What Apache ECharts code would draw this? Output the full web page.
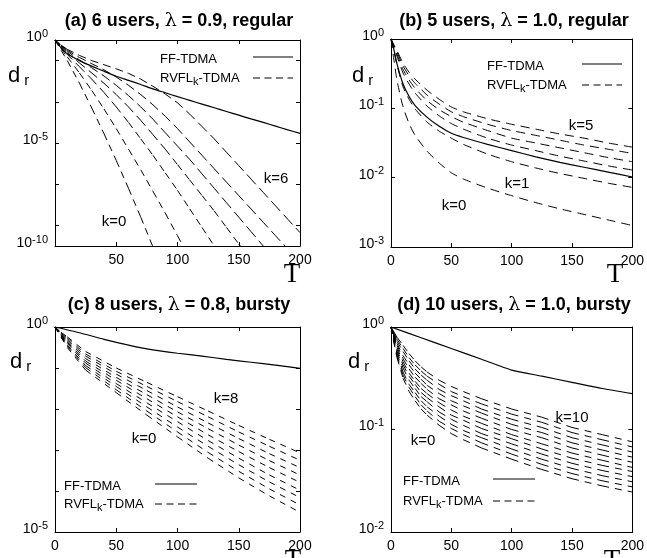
<!DOCTYPE html>
<html>
<head>
<meta charset="utf-8">
<script src="https://cdn.jsdelivr.net/npm/echarts@6/dist/echarts.min.js"></script>
<style>
html, body { margin: 0; padding: 0; background: #fff; }
#main { width: 647px; height: 558px; }
</style>
</head>
<body>
<div id="main"></div>
<script>
// values are log10(d_r)
var T_A = [0, 5, 10, 20, 30, 40, 50, 60, 70, 80, 90, 100, 110, 120, 130, 140, 150, 160, 170, 180, 190, 200];
var ff_A = [0, -0.38, -0.67, -1.0, -1.27, -1.52, -1.76, -1.96, -2.16, -2.37, -2.56, -2.75, -2.93, -3.11, -3.29, -3.47, -3.65, -3.83, -4.0, -4.18, -4.36, -4.53];
var rv_A = [
  [0, -0.5, -1.0, -2.1, -3.3, -4.55, -5.85, -7.2, -8.6, -10.05],
  [0, -0.42, -0.82, -1.6, -2.45, -3.35, -4.3, -5.3, -6.3, -7.35, -8.4, -9.5, -10.6],
  [0, -0.37, -0.7, -1.3, -1.9, -2.55, -3.25, -4.0, -4.8, -5.6, -6.45, -7.3, -8.2, -9.1, -10.0, -10.9],
  [0, -0.33, -0.62, -1.12, -1.6, -2.1, -2.65, -3.25, -3.9, -4.6, -5.3, -6.05, -6.8, -7.55, -8.3, -9.1, -9.9, -10.7],
  [0, -0.3, -0.55, -0.97, -1.35, -1.75, -2.2, -2.7, -3.25, -3.85, -4.5, -5.15, -5.8, -6.5, -7.2, -7.9, -8.6, -9.3, -10.0, -10.7],
  [0, -0.27, -0.5, -0.85, -1.15, -1.45, -1.8, -2.2, -2.65, -3.15, -3.7, -4.3, -4.95, -5.6, -6.25, -6.9, -7.55, -8.2, -8.85, -9.5, -10.15, -10.8],
  [0, -0.25, -0.45, -0.75, -1.0, -1.2, -1.4, -1.62, -1.9, -2.25, -2.62, -3.05, -3.6, -4.2, -4.8, -5.45, -6.1, -6.75, -7.4, -8.05, -8.7, -9.35]
];

var T_B = [0, 2, 5, 10, 15, 20, 30, 40, 50, 60, 80, 100, 120, 140, 160, 180, 200];
var ff_B = [0, -0.12, -0.36, -0.65, -0.83, -0.96, -1.13, -1.26, -1.36, -1.42, -1.52, -1.61, -1.7, -1.78, -1.85, -1.92, -1.99];
var rv_B = [
  [0, -0.25, -0.6, -0.98, -1.22, -1.39, -1.62, -1.79, -1.93, -2.02, -2.15, -2.26, -2.36, -2.45, -2.53, -2.61, -2.69],
  [0, -0.14, -0.38, -0.69, -0.87, -1.01, -1.2, -1.33, -1.43, -1.52, -1.66, -1.77, -1.86, -1.94, -2.01, -2.08, -2.14],
  [0, -0.1, -0.25, -0.49, -0.65, -0.78, -0.97, -1.11, -1.22, -1.3, -1.43, -1.53, -1.61, -1.69, -1.76, -1.83, -1.89],
  [0, -0.09, -0.22, -0.44, -0.59, -0.71, -0.89, -1.02, -1.12, -1.2, -1.32, -1.43, -1.5, -1.57, -1.64, -1.71, -1.77],
  [0, -0.08, -0.19, -0.39, -0.53, -0.64, -0.81, -0.94, -1.05, -1.12, -1.23, -1.32, -1.39, -1.46, -1.53, -1.59, -1.65],
  [0, -0.07, -0.17, -0.35, -0.48, -0.58, -0.74, -0.87, -0.98, -1.05, -1.15, -1.23, -1.3, -1.37, -1.43, -1.5, -1.56]
];

var T_C = [0, 5, 10, 25, 50, 75, 100, 125, 150, 175, 200];
var T_Cff = [0, 20, 40, 60, 80, 100, 120, 140, 160, 180, 200];
var ff_C = [0, -0.14, -0.3, -0.44, -0.56, -0.64, -0.71, -0.79, -0.86, -0.93, -1.01];
var rv_C = [
  [0, -0.25, -0.5, -1.05, -1.6, -2.15, -2.68, -3.2, -3.68, -4.12, -4.52],
  [0, -0.24, -0.47, -0.99, -1.53, -2.05, -2.56, -3.06, -3.52, -3.95, -4.34],
  [0, -0.22, -0.44, -0.94, -1.45, -1.95, -2.44, -2.91, -3.36, -3.78, -4.16],
  [0, -0.21, -0.4, -0.88, -1.38, -1.85, -2.31, -2.77, -3.2, -3.61, -3.98],
  [0, -0.19, -0.37, -0.83, -1.3, -1.75, -2.19, -2.63, -3.04, -3.43, -3.79],
  [0, -0.18, -0.34, -0.77, -1.23, -1.65, -2.07, -2.48, -2.88, -3.26, -3.61],
  [0, -0.16, -0.31, -0.71, -1.15, -1.55, -1.95, -2.34, -2.72, -3.09, -3.43],
  [0, -0.15, -0.27, -0.66, -1.08, -1.45, -1.82, -2.19, -2.56, -2.91, -3.25],
  [0, -0.13, -0.24, -0.6, -1.0, -1.35, -1.7, -2.05, -2.4, -2.74, -3.07]
];

var T_D = [0, 2, 5, 10, 15, 20, 25, 30, 40, 50, 60, 75, 100, 125, 150, 175, 200];
var T_Dff = [0, 25, 50, 75, 100, 125, 150, 175, 200];
var ff_D = [0, -0.105, -0.21, -0.315, -0.42, -0.48, -0.54, -0.6, -0.65];
var rv_D = [
  [0, -0.13, -0.3, -0.5, -0.63, -0.72, -0.8, -0.86, -0.96, -1.04, -1.1, -1.18, -1.29, -1.39, -1.48, -1.55, -1.61],
  [0, -0.12, -0.28, -0.47, -0.59, -0.68, -0.76, -0.82, -0.92, -0.99, -1.05, -1.13, -1.24, -1.34, -1.43, -1.5, -1.56],
  [0, -0.11, -0.26, -0.44, -0.56, -0.64, -0.72, -0.78, -0.87, -0.95, -1.01, -1.08, -1.19, -1.29, -1.38, -1.45, -1.51],
  [0, -0.1, -0.24, -0.4, -0.52, -0.6, -0.68, -0.73, -0.83, -0.9, -0.96, -1.04, -1.14, -1.24, -1.33, -1.4, -1.46],
  [0, -0.09, -0.22, -0.37, -0.48, -0.56, -0.64, -0.69, -0.78, -0.86, -0.91, -0.99, -1.09, -1.19, -1.28, -1.35, -1.41],
  [0, -0.085, -0.2, -0.34, -0.45, -0.53, -0.6, -0.65, -0.74, -0.81, -0.87, -0.94, -1.05, -1.14, -1.23, -1.3, -1.37],
  [0, -0.08, -0.18, -0.31, -0.41, -0.49, -0.55, -0.61, -0.7, -0.76, -0.82, -0.89, -1.0, -1.08, -1.18, -1.25, -1.32],
  [0, -0.07, -0.16, -0.28, -0.37, -0.45, -0.51, -0.57, -0.65, -0.72, -0.77, -0.84, -0.95, -1.03, -1.13, -1.2, -1.27],
  [0, -0.06, -0.14, -0.24, -0.33, -0.41, -0.47, -0.52, -0.61, -0.67, -0.72, -0.8, -0.9, -0.98, -1.08, -1.15, -1.22],
  [0, -0.05, -0.12, -0.21, -0.3, -0.37, -0.43, -0.48, -0.56, -0.63, -0.68, -0.75, -0.85, -0.93, -1.03, -1.1, -1.17],
  [0, -0.04, -0.1, -0.18, -0.26, -0.33, -0.39, -0.44, -0.52, -0.58, -0.63, -0.7, -0.8, -0.88, -0.98, -1.05, -1.12]
];

var FONT = '"Liberation Sans", Arial, Helvetica, sans-serif';
var DASHES = [[7, 5], [9, 6], [6, 6], [7, 6]];

var myChart = echarts.init(document.getElementById('main'));

var grids = [
  { left: 55, top: 40, width: 245, height: 206 },
  { left: 391, top: 39, width: 245, height: 208 },
  { left: 55, top: 327, width: 245, height: 205 },
  { left: 391, top: 327, width: 245, height: 205 }
];
// y range (decades), the decades that get a label, and where the ticks go
var yRanges = [
  [-10, 0, [0, -5, -10], [-1, -3, -5, -7, -9]],
  [-3, 0, [0, -1, -2, -3], null],
  [-5, 0, [0, -5], null],
  [-2, 0, [0, -1, -2], null]
];

var xAxes = [], yAxes = [];
grids.forEach(function (g, i) {
  var axLine = { show: true, onZero: false, lineStyle: { color: '#000', width: 1 } };
  var tick = { show: true, inside: true, length: 4, lineStyle: { color: '#000', width: 1 } };
  xAxes.push({
    gridIndex: i, type: 'value', position: 'bottom', min: 0, max: 200, interval: 50,
    axisLine: axLine, axisTick: tick, splitLine: { show: false },
    axisLabel: {
      color: '#000', fontSize: 14, fontFamily: FONT, margin: 7,
      formatter: function (v) { return (i === 0 && v === 0) ? '' : String(v); }
    }
  });
  xAxes.push({
    gridIndex: i, type: 'value', position: 'top', min: 0, max: 200, interval: 50,
    axisLine: axLine, axisTick: tick, splitLine: { show: false }, axisLabel: { show: false }
  });
  var yr = yRanges[i];
  var yTick = yr[3] ? Object.assign({}, tick, { customValues: yr[3] }) : tick;
  yAxes.push({
    gridIndex: i, type: 'value', position: 'left', min: yr[0], max: yr[1], interval: 1,
    axisLine: axLine, axisTick: yTick, splitLine: { show: false },
    axisLabel: {
      margin: 7, padding: [0, 0, 8, 0],
      formatter: function (v) {
        return yr[2].indexOf(v) >= 0 ? '{b|10}{s|' + v + '}' : '';
      },
      rich: {
        b: { fontSize: 14, fontFamily: FONT, color: '#000', lineHeight: 16, verticalAlign: 'bottom' },
        s: { fontSize: 11, fontFamily: FONT, color: '#000', lineHeight: 12, padding: [0, 0, 10, 0], verticalAlign: 'top' }
      }
    }
  });
  yAxes.push({
    gridIndex: i, type: 'value', position: 'right', min: yr[0], max: yr[1], interval: 1,
    axisLine: axLine, axisTick: yTick, splitLine: { show: false }, axisLabel: { show: false }
  });
});

// broken = every pair of points is its own piece, so the dash pattern
// starts again at each point (as in the original plot)
function curve(name, gi, xs, ys, dashed, broken) {
  var data = [];
  if (broken) {
    for (var j = 0; j < ys.length - 1; j++) {
      data.push([xs[j], ys[j]], [xs[j + 1], ys[j + 1]]);
      if (j < ys.length - 2) data.push([xs[j + 1], '-']);
    }
  } else {
    data = ys.map(function (v, j) { return [xs[j], v]; });
  }
  return {
    name: name, type: 'line', xAxisIndex: 2 * gi, yAxisIndex: 2 * gi,
    data: data, symbol: 'none', smooth: broken ? false : 0.2, connectNulls: false,
    clip: true, animation: false,
    lineStyle: { color: '#000', width: dashed ? 1 : 1.2, type: dashed ? DASHES[gi] : 'solid' }
  };
}

var series = [];
series.push(curve('FF-TDMA', 0, T_A, ff_A, false, false));
rv_A.forEach(function (r) { series.push(curve('RVFL-TDMA', 0, T_A, r, true, true)); });
series.push(curve('FF-TDMA', 1, T_B, ff_B, false, false));
rv_B.forEach(function (r) { series.push(curve('RVFL-TDMA', 1, T_B, r, true, false)); });
series.push(curve('FF-TDMA', 2, T_Cff, ff_C, false, false));
rv_C.forEach(function (r) { series.push(curve('RVFL-TDMA', 2, T_C, r, true, true)); });
series.push(curve('FF-TDMA', 3, T_Dff, ff_D, false, false));
rv_D.forEach(function (r) { series.push(curve('RVFL-TDMA', 3, T_D, r, true, true)); });

// text helpers for titles, keys and notes
function txt(x, y, text, rich, align) {
  return { type: 'text', x: x, y: y, z: 10,
    style: { text: text, rich: rich, align: align || 'left', verticalAlign: 'middle', fill: '#000' } };
}
function seg(x1, y1, x2, y2, dashed) {
  return { type: 'line', z: 10, shape: { x1: x1, y1: y1, x2: x2, y2: y2 },
    style: { stroke: '#000', lineWidth: dashed ? 1 : 1.2, lineDash: dashed ? [7, 4.5] : null } };
}
var titleRich = {
  t: { fontSize: 18, fontWeight: 'bold', fontFamily: FONT, fill: '#000' },
  l: { fontSize: 19, fontFamily: '"DejaVu Serif", serif', fill: '#000' }
};
var keyRich = {
  a: { fontSize: 13, fontFamily: FONT, fill: '#000' },
  k: { fontSize: 11, fontFamily: FONT, fill: '#000', padding: [8, 0, 0, 0] }
};
var noteRich = { n: { fontSize: 15, fontFamily: FONT, fill: '#000' } };
var dRich = {
  d: { fontSize: 22, fontFamily: FONT, fill: '#000' },
  r: { fontSize: 15, fontFamily: FONT, fill: '#000', padding: [10, 0, 0, 4] }
};
var tRich = { t: { fontSize: 27, fontFamily: '"Liberation Serif", "DejaVu Serif", serif', fill: '#000' } };

var titles = [
  ['(a) 6 users, ', '0.9, regular', 179, 21],
  ['(b) 5 users, ', '1.0, regular', 514, 21],
  ['(c) 8 users, ', '0.8, bursty', 179, 305],
  ['(d) 10 users, ', '1.0, bursty', 514, 305]
];
var keys = [
  [160, 59, 78, 253, 293],
  [487, 66, 85, 582, 622],
  [64, 486, 504, 155, 197],
  [403, 481, 501, 493, 535]
];
var notes = [
  ['k=6', 276, 179], ['k=0', 114, 222],
  ['k=5', 581, 126], ['k=1', 517, 184], ['k=0', 454, 206],
  ['k=8', 226, 399], ['k=0', 144, 439],
  ['k=10', 572, 418], ['k=0', 423, 441]
];
var axisNames = [[8, 76, 292, 275], [352, 76, 615, 275], [10, 362, 293, 561], [348, 362, 612, 561]];

var graphic = [];
titles.forEach(function (t) {
  graphic.push(txt(t[2], t[3], '{t|' + t[0] + '}{l|λ}{t| = ' + t[1] + '}', titleRich, 'center'));
});
keys.forEach(function (k) {
  graphic.push(txt(k[0], k[1], '{a|FF-TDMA}', keyRich));
  graphic.push(txt(k[0], k[2], '{a|RVFL}{k|k}{a|-TDMA}', keyRich));
  graphic.push(seg(k[3], k[1] - 2, k[4], k[1] - 2, false));
  graphic.push(seg(k[3], k[2], k[4], k[2], true));
});
notes.forEach(function (n) { graphic.push(txt(n[1], n[2], '{n|' + n[0] + '}', noteRich, 'center')); });
axisNames.forEach(function (a) {
  graphic.push(txt(a[0], a[1], '{d|d}{r|r}', dRich));
  graphic.push(txt(a[2], a[3], '{t|T}', tRich, 'center'));
});

var option = {
  backgroundColor: '#fff',
  animation: false,
  grid: grids,
  xAxis: xAxes,
  yAxis: yAxes,
  series: series,
  graphic: graphic
};
myChart.setOption(option);
</script>
</body>
</html>
